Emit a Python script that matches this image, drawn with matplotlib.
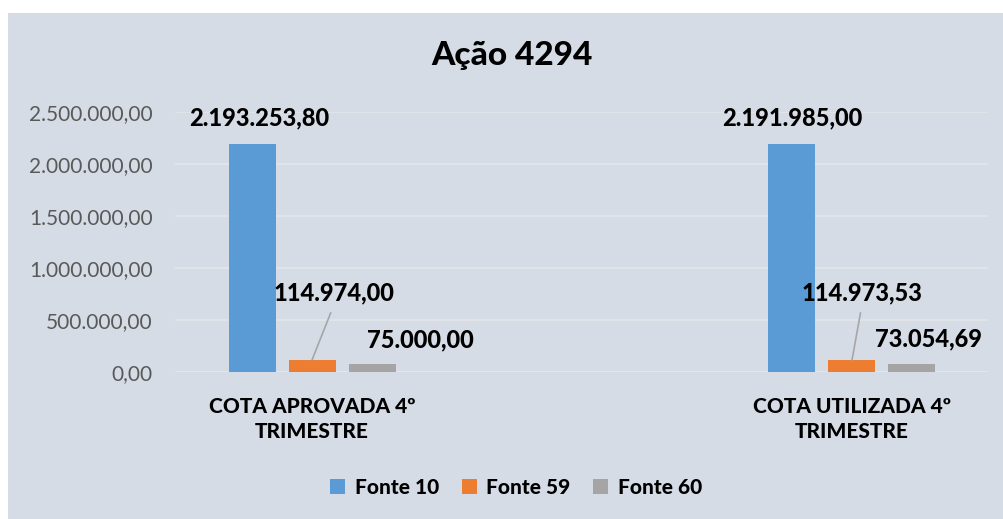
import matplotlib
matplotlib.use('Agg')
import matplotlib.pyplot as plt
from matplotlib.patches import Rectangle, Patch
from matplotlib.ticker import FuncFormatter

plt.rcParams['font.family'] = ['Lato', 'DejaVu Sans']

categories = ['COTA APROVADA 4º\nTRIMESTRE', 'COTA UTILIZADA 4º\nTRIMESTRE']
series_names = ['Fonte 10', 'Fonte 59', 'Fonte 60']
fonte_10 = [2193253.80, 2191985.00]
fonte_59 = [114974.00, 114973.53]
fonte_60 = [75000.00, 73054.69]
y_ticks = [0, 500000, 1000000, 1500000, 2000000, 2500000]

colors = ['#5B9BD5', '#ED7D31', '#A5A5A5']
# label offsets in pixels (dx, dy) from bar top center, per series per category
label_offsets = [
    [(7, 26), (0, 26)],
    [(22, 67), (10, 67)],
    [(48, 24), (17, 26)],
]
WEIGHT = 'black'


def br_fmt(v, pos=None):
    s = f'{v:,.2f}'
    return s.replace(',', 'X').replace('.', ',').replace('X', '.')


def main():
    W, H = 1004, 519
    fig = plt.figure(figsize=(W / 100, H / 100), dpi=100, facecolor='white')

    # chart area background
    fig.patches.append(Rectangle((8 / W, 0), 1 - 8 / W, 1 - 13 / H, transform=fig.transFigure,
                                 facecolor='#D6DCE5', edgecolor='none', zorder=-1))

    ax = fig.add_axes([175 / W, (H - 372) / H, (988 - 175) / W, 260 / H])
    ax.set_facecolor('none')
    ax.set_zorder(1)

    bar_w = 47 / 540
    step = 60 / 540
    series = [fonte_10, fonte_59, fonte_60]
    for i, (vals, name, c) in enumerate(zip(series, series_names, colors)):
        xs = [k + (i - 1) * step for k in range(len(categories))]
        ax.bar(xs, vals, width=bar_w, color=c, label=name, zorder=3)
        for j, (x, v) in enumerate(zip(xs, vals)):
            dx, dy = label_offsets[i][j]
            if i == 1:
                ax.annotate(br_fmt(v), xy=(x, v), xytext=(dx, dy), textcoords='offset pixels',
                            ha='center', va='center', fontsize=17, fontweight=WEIGHT, color='black',
                            bbox=dict(boxstyle='square,pad=0.35', facecolor='none', edgecolor='none'),
                            arrowprops=dict(arrowstyle='-', color='#A6A6A6', lw=1.2,
                                            shrinkA=0, shrinkB=0, relpos=(0.5, 0)),
                            zorder=4)
            else:
                ax.annotate(br_fmt(v), xy=(x, v), xytext=(dx, dy), textcoords='offset pixels',
                            ha='center', va='center', fontsize=17, fontweight=WEIGHT, color='black',
                            zorder=4)

    ax.set_ylim(0, 2500000)
    ax.set_xlim(-137 / 540, 1 + 136 / 540)
    ax.set_yticks(y_ticks)
    ax.yaxis.set_major_formatter(FuncFormatter(br_fmt))
    ax.set_xticks(range(len(categories)))
    ax.set_xticklabels(categories, fontsize=15, fontweight=WEIGHT, linespacing=1.4)
    ax.tick_params(axis='y', length=0, pad=16, labelsize=15, labelcolor='#595959')
    ax.tick_params(axis='x', length=0, pad=18)
    ax.grid(axis='y', color='#E3E6EB', linewidth=1.2, zorder=1)
    for s in ax.spines.values():
        s.set_visible(False)
    ax.axhline(0, color='#E3E6EB', linewidth=1.2, zorder=2)

    fig.text(512 / W, 1 - 56 / H, 'Ação 4294', ha='center', va='center',
             fontsize=24, fontweight=WEIGHT, color='black')

    handles = [Patch(facecolor=c, edgecolor='none') for c in colors]
    fig.legend(handles, series_names, loc='center', bbox_to_anchor=(516 / W, 1 - 487 / H),
               ncol=3, frameon=False, handlelength=0.72, handleheight=0.72,
               handletextpad=0.45, columnspacing=1.1,
               prop={'size': 15, 'weight': WEIGHT})

    fig.savefig('out.png', dpi=100, facecolor='white')


if __name__ == '__main__':
    main()
